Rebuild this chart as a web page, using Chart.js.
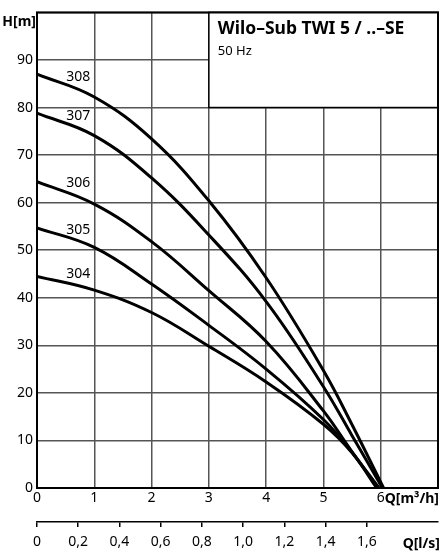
<!DOCTYPE html>
<html>
<head>
<meta charset="utf-8">
<script src="https://cdn.jsdelivr.net/npm/chart.js@4.4.1/dist/chart.umd.min.js"></script>
<style>
  html, body { margin: 0; padding: 0; background: #fff; }
  #wrap { width: 442px; height: 560px; }
</style>
</head>
<body>
<div id="wrap"><canvas id="pumpChart"></canvas></div>
<script>
// pump curves, Q in m3/h, H in m
var seriesNames = ['308', '307', '306', '305', '304'];
var q308 = [0, 1, 2, 3, 4, 5, 5.5, 6.05];
var h308 = [87, 82.2, 73.4, 60.4, 44.2, 24.7, 13.3, 0];
var q307 = [0, 1, 2, 3, 4, 5, 5.5, 6.03];
var h307 = [78.8, 74.1, 65.2, 53.2, 39.2, 21.3, 11, 0];
var q306 = [0, 1, 2, 3, 4, 5, 5.5, 5.97];
var h306 = [64.4, 59.7, 51.8, 41.5, 30.8, 16.2, 7.6, 0];
var q305 = [0, 1, 2, 3, 4, 5, 5.5, 5.95];
var h305 = [54.7, 50.6, 42.9, 34.2, 25, 14.4, 7.5, 0];
var q304 = [0, 1, 2, 3, 4, 5, 5.5, 5.93];
var h304 = [44.5, 41.6, 36.9, 29.8, 22.3, 13.4, 7.4, 0];

// where the curve names sit (data coords)
var labelQ = [0.72, 0.72, 0.72, 0.72, 0.72];
var labelH = [86.4, 78.2, 64.2, 54.3, 44.9];

var lsTicks = [0, 0.2, 0.4, 0.6, 0.8, 1.0, 1.2, 1.4, 1.6];

var titleText = 'Wilo\u2013Sub TWI 5 / ..\u2013SE';
var subText = '50 Hz';

var FONT = '"Noto Sans", "DejaVu Sans", sans-serif';

function pts(qs, hs) {
  return qs.map(function (q, i) { return { x: q, y: hs[i] }; });
}

var allQ = [q308, q307, q306, q305, q304];
var allH = [h308, h307, h306, h305, h304];
var datasets = seriesNames.map(function (n, i) {
  return {
    label: n,
    data: pts(allQ[i], allH[i]),
    borderColor: '#000',
    borderWidth: 3,
    pointRadius: 0,
    fill: false,
    tension: 0.4
  };
});

// title box + frame + axis texts
var decoPlugin = {
  id: 'deco',
  beforeDatasetsDraw: function (chart) {
    var c = chart.ctx, x = chart.scales.x, y = chart.scales.y;
    var bx = x.getPixelForValue(3), by = y.getPixelForValue(80);
    var r = chart.chartArea;
    c.save();
    c.fillStyle = '#fff';
    c.fillRect(bx, r.top, r.right - bx, by - r.top);
    c.strokeStyle = '#000';
    c.lineWidth = 1.5;
    c.strokeRect(bx, r.top, r.right - bx, by - r.top);
    c.fillStyle = '#000';
    c.textBaseline = 'middle';
    c.textAlign = 'left';
    c.font = 'bold 17.5px ' + FONT;
    c.fillText(titleText, bx + 9, r.top + 17);
    c.font = '13px ' + FONT;
    c.fillText(subText, bx + 9, r.top + 39);
    c.restore();
  },
  afterDatasetsDraw: function (chart) {
    var c = chart.ctx, x = chart.scales.x, y = chart.scales.y, x2 = chart.scales.x2;
    var r = chart.chartArea;
    c.save();
    c.strokeStyle = '#000';
    c.lineWidth = 2;
    c.strokeRect(r.left, r.top, r.right - r.left, r.bottom - r.top);

    c.fillStyle = '#000';
    c.textBaseline = 'middle';
    c.font = '14px ' + FONT;
    c.textAlign = 'center';
    seriesNames.forEach(function (n, i) {
      c.fillText(n, x.getPixelForValue(labelQ[i]), y.getPixelForValue(labelH[i]));
    });

    c.font = 'bold 14px ' + FONT;
    c.textAlign = 'right';
    c.fillText('H[m]', r.left - 1, r.top + 10);
    c.textAlign = 'left';
    c.fillText('Q[m\u00b3/h]', x.getPixelForValue(6) + 4, r.bottom + 11);
    c.textAlign = 'right';
    c.fillText('Q[l/s]', chart.width - 2, x2.top + 22);
    c.restore();
  }
};

var ctx = document.getElementById('pumpChart').getContext('2d');
var myChart = new Chart(ctx, {
  type: 'line',
  data: { datasets: datasets },
  options: {
    responsive: true,
    maintainAspectRatio: false,
    animation: false,
    layout: { padding: { top: 3, right: 4, left: 0, bottom: 0 } },
    plugins: { legend: { display: false }, tooltip: { enabled: false } },
    scales: {
      x: {
        type: 'linear',
        position: 'bottom',
        weight: 0,
        min: 0, max: 7,
        ticks: {
          stepSize: 1,
          padding: 2,
          color: '#000',
          font: { family: FONT, size: 14 },
          callback: function (v) { return v === 7 ? '' : String(v); }
        },
        grid: { color: '#555', lineWidth: 1.5, drawTicks: false },
        border: { display: false },
        afterFit: function (s) { s.height = 34; }
      },
      x2: {
        type: 'linear',
        position: 'bottom',
        weight: 1,
        min: 0, max: 7 / 3.6,
        afterBuildTicks: function (s) {
          s.ticks = lsTicks.map(function (v) { return { value: v }; });
        },
        ticks: {
          padding: 7,
          color: '#000',
          font: { family: FONT, size: 14 },
          callback: function (v) { return v === 0 ? '0' : v.toFixed(1).replace('.', ','); }
        },
        grid: { drawOnChartArea: false, drawTicks: true, tickLength: 5, color: '#000', lineWidth: 1.5 },
        border: { display: true, color: '#000', width: 1.5 },
        afterFit: function (s) { s.height = 38; }
      },
      y: {
        type: 'linear',
        min: 0, max: 100,
        ticks: {
          stepSize: 10,
          padding: 4,
          color: '#000',
          font: { family: FONT, size: 14 },
          callback: function (v) { return v === 100 ? '' : String(v); }
        },
        grid: { color: '#555', lineWidth: 1.5, drawTicks: false },
        border: { display: false },
        afterFit: function (s) { s.width = 37; }
      }
    }
  },
  plugins: [decoPlugin]
});
</script>
</body>
</html>
